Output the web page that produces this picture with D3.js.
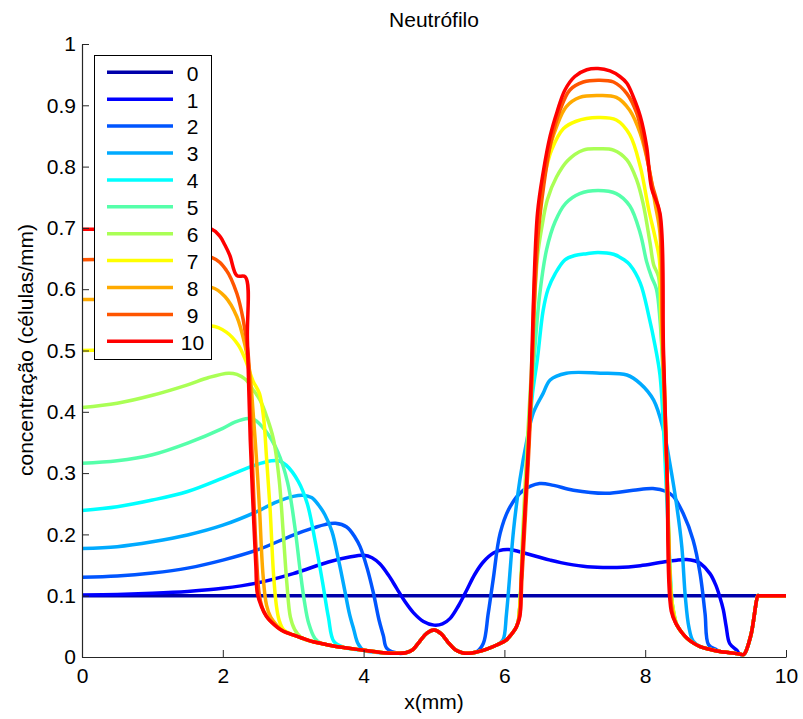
<!DOCTYPE html>
<html>
<head>
<meta charset="utf-8">
<script src="https://cdn.jsdelivr.net/npm/d3@7"></script>
<style>
  html, body { margin: 0; padding: 0; background: #fff; }
  svg { display: block; }
  text { font-family: "Liberation Sans", Arial, Helvetica, sans-serif; fill: #000; }
</style>
</head>
<body>
<svg id="chart" width="803" height="719"></svg>
<script>
// ---------------- DATA ----------------
const titleText = "Neutrófilo";
const xLabel = "x(mm)";
const yLabel = "concentração (células/mm)";
const xTicks = [0, 2, 4, 6, 8, 10];
const xTickLabels = ["0", "2", "4", "6", "8", "10"];
const yTicks = [0, 0.1, 0.2, 0.3, 0.4, 0.5, 0.6, 0.7, 0.8, 0.9, 1];
const yTickLabels = ["0", "0.1", "0.2", "0.3", "0.4", "0.5", "0.6", "0.7", "0.8", "0.9", "1"];
const seriesNames = ["0", "1", "2", "3", "4", "5", "6", "7", "8", "9", "10"];
const seriesColors = ["#0000AA", "#0000FF", "#0055FF", "#00AAFF", "#00FFFF", "#55FFAA",
                      "#AAFF55", "#FFFF00", "#FFAA00", "#FF5500", "#FF0000"];

// common low "floor" shared by the later time curves
const floorPts = [
  [2.49,0.104],[2.55,0.082],[2.62,0.066],[2.69,0.057],[2.78,0.048],[2.86,0.042],[3.0,0.036],
  [3.12,0.031],[3.25,0.026],[3.4,0.022],[3.57,0.018],[3.74,0.015],[4.0,0.011],[4.28,0.007],
  [4.5,0.006],[4.6,0.007],[4.7,0.012],[4.8,0.026],[4.9,0.039],[5.0,0.044],[5.1,0.038],
  [5.2,0.024],[5.3,0.012],[5.4,0.007],[5.5,0.006],[5.6,0.008],[5.75,0.013],[5.9,0.02],
  [6.03,0.028],[6.12,0.04],[6.17,0.049],[6.22,0.066],
  [8.45,0.052],[8.52,0.04],[8.59,0.031],[8.68,0.023],[8.78,0.017],[8.9,0.013],[9.06,0.009],
  [9.2,0.007],[9.34,0.005],[9.4,0.004],[9.5,0.035],[9.6,0.1],[9.61,0.1],[9.7,0.1],[10,0.1]
];

const t0 = [[0,0.1],[10,0.1]];

const t1 = [[0,0.101],[0.5,0.102],[1,0.104],[1.5,0.107],[2,0.112],[2.5,0.121],[3,0.136],[3.5,0.155],
  [3.8,0.163],[4.0,0.166],[4.12,0.162],[4.23,0.152],[4.35,0.134],[4.47,0.112],[4.59,0.09],[4.71,0.072],
  [4.85,0.058],[5.0,0.052],[5.12,0.054],[5.23,0.063],[5.35,0.084],[5.46,0.108],[5.58,0.135],
  [5.70,0.155],[5.85,0.170],[5.98,0.175],[6.1,0.175],[6.27,0.170],[6.46,0.164],[6.65,0.158],
  [6.8,0.154],[7.12,0.148],[7.4,0.146],[7.6,0.146],[7.93,0.149],[8.21,0.154],[8.45,0.158],
  [8.59,0.159],[8.7,0.157],[8.78,0.153],[8.92,0.136],[9.0,0.118],[9.06,0.098],[9.11,0.077],
  [9.15,0.05],[9.20,0.022],[9.30,0.011]];

const t2 = [[0,0.130],[0.5,0.132],[1,0.137],[1.5,0.145],[2,0.158],[2.5,0.175],[3,0.199],[3.3,0.211],
  [3.45,0.216],[3.6,0.218],[3.76,0.212],[3.88,0.195],[3.95,0.18],[4.05,0.145],[4.14,0.104],
  [4.22,0.06],[4.28,0.035],[4.33,0.014],
  "floor",
  [5.70,0.022],[5.77,0.071],[5.84,0.126],[5.94,0.202],[6.08,0.245],[6.27,0.272],[6.5,0.283],
  [6.7,0.280],[6.98,0.272],[7.45,0.267],[7.83,0.272],[8.11,0.275],[8.30,0.27],[8.40,0.262],
  [8.54,0.234],[8.68,0.191],[8.78,0.136],[8.85,0.071],[8.90,0.02],[9.01,0.012]];

const t3 = [[0,0.177],[0.5,0.180],[1,0.188],[1.5,0.199],[2,0.215],[2.5,0.238],[2.74,0.252],[3.0,0.262],
  [3.14,0.264],[3.26,0.260],[3.36,0.248],[3.45,0.232],[3.55,0.205],[3.65,0.155],[3.73,0.11],
  [3.8,0.07],[3.86,0.045],[3.92,0.022],
  "floor",
  [5.98,0.028],[6.03,0.071],[6.13,0.207],[6.22,0.289],[6.32,0.354],[6.41,0.398],[6.55,0.43],
  [6.65,0.452],[6.88,0.463],[7.36,0.463],[7.74,0.460],[7.93,0.446],[8.12,0.419],[8.26,0.37],
  [8.35,0.316],[8.45,0.245],[8.52,0.18],[8.57,0.098],[8.62,0.049],[8.68,0.026]];

const t4 = [[0,0.239],[0.5,0.245],[1,0.256],[1.5,0.270],[2,0.292],[2.17,0.30],[2.46,0.313],[2.69,0.32],
  [2.8,0.32],[2.9,0.313],[3.07,0.287],[3.2,0.25],[3.31,0.19],[3.42,0.12],[3.5,0.065],[3.58,0.025],
  "floor",
  [6.2,0.06],[6.27,0.2],[6.33,0.33],[6.4,0.43],[6.47,0.487],[6.55,0.565],[6.62,0.6],[6.72,0.625],
  [6.86,0.648],[7.0,0.655],[7.17,0.658],[7.33,0.66],[7.55,0.657],[7.7,0.648],[7.78,0.64],
  [7.93,0.61],[8.05,0.557],[8.14,0.508],[8.21,0.46],[8.27,0.35],[8.33,0.2],[8.40,0.072]];

const t5 = [[0,0.316],[0.5,0.32],[1,0.33],[1.5,0.349],[2,0.373],[2.17,0.383],[2.36,0.389],[2.45,0.387],
  [2.6,0.37],[2.78,0.335],[2.92,0.285],[3.02,0.215],[3.1,0.14],[3.16,0.09],[3.22,0.055],[3.31,0.03],
  "floor",
  [6.2,0.06],[6.27,0.2],[6.33,0.33],[6.39,0.44],[6.43,0.5],[6.5,0.59],[6.6,0.665],[6.72,0.71],
  [6.87,0.74],[7.07,0.756],[7.33,0.761],[7.59,0.756],[7.78,0.736],[7.93,0.691],[8.02,0.645],
  [8.09,0.62],[8.16,0.6],[8.21,0.55],[8.26,0.45],[8.31,0.3],[8.37,0.1],[8.42,0.065]];

const t6 = [[0,0.407],[0.5,0.414],[1,0.427],[1.5,0.444],[1.8,0.456],[2.08,0.463],[2.2,0.461],
  [2.32,0.453],[2.43,0.436],[2.53,0.419],[2.63,0.39],[2.72,0.355],[2.8,0.29],[2.86,0.2],
  [2.91,0.12],[2.96,0.065],[3.02,0.045],
  "floor",
  [6.2,0.06],[6.26,0.2],[6.32,0.34],[6.38,0.46],[6.42,0.56],[6.47,0.653],[6.53,0.7],[6.61,0.746],
  [6.74,0.783],[6.9,0.81],[7.12,0.827],[7.33,0.829],[7.55,0.827],[7.74,0.811],[7.88,0.778],
  [7.97,0.74],[8.07,0.675],[8.12,0.64],[8.19,0.62],[8.22,0.55],[8.26,0.45],[8.31,0.3],[8.37,0.1],
  [8.42,0.063]];

const t7 = [[0,0.500],[0.5,0.503],[1.0,0.512],[1.5,0.527],[1.84,0.54],[2.05,0.53],[2.22,0.509],
  [2.32,0.485],[2.43,0.45],[2.52,0.43],[2.58,0.39],[2.62,0.327],[2.67,0.245],[2.72,0.136],
  [2.76,0.085],[2.8,0.06],[2.86,0.045],
  "floor",
  [6.2,0.06],[6.25,0.15],[6.3,0.26],[6.35,0.36],[6.39,0.46],[6.43,0.6],[6.5,0.746],[6.58,0.79],
  [6.67,0.827],[6.84,0.862],[7.02,0.874],[7.33,0.880],[7.59,0.876],[7.78,0.852],[7.93,0.80],
  [8.05,0.73],[8.14,0.685],[8.2,0.65],[8.23,0.55],[8.27,0.45],[8.31,0.3],[8.37,0.1],[8.42,0.063]];

const t8 = [[0,0.583],[0.5,0.585],[1,0.59],[1.5,0.597],[1.84,0.603],[2.03,0.588],[2.2,0.555],
  [2.32,0.506],[2.38,0.468],[2.43,0.4],[2.48,0.32],[2.52,0.245],[2.57,0.136],[2.62,0.085],
  [2.68,0.065],[2.78,0.05],
  "floor",
  [6.2,0.06],[6.25,0.15],[6.3,0.26],[6.35,0.36],[6.39,0.46],[6.43,0.62],[6.5,0.74],[6.6,0.811],
  [6.74,0.865],[6.88,0.898],[7.07,0.913],[7.33,0.916],[7.59,0.913],[7.78,0.892],[7.93,0.854],
  [8.05,0.80],[8.14,0.740],[8.21,0.691],[8.24,0.55],[8.27,0.45],[8.31,0.3],[8.37,0.09],[8.42,0.06]];

const t9 = [[0,0.648],[1,0.65],[1.84,0.652],[2.05,0.631],[2.2,0.593],[2.29,0.55],[2.36,0.495],
  [2.40,0.38],[2.44,0.26],[2.48,0.16],[2.52,0.1],[2.58,0.075],[2.65,0.062],
  "floor",
  [6.22,0.07],[6.25,0.13],[6.30,0.234],[6.35,0.343],[6.39,0.452],[6.42,0.56],[6.48,0.69],[6.56,0.77],
  [6.66,0.84],[6.79,0.892],[6.93,0.925],[7.12,0.938],[7.33,0.941],[7.55,0.938],[7.74,0.919],
  [7.88,0.887],[8.0,0.83],[8.1,0.77],[8.16,0.746],[8.21,0.718],[8.25,0.5],[8.31,0.3],[8.38,0.075],
  [8.43,0.056]];

const t10 = [[0,0.698],[1.0,0.698],[1.84,0.698],[1.96,0.686],[2.03,0.672],[2.1,0.655],[2.2,0.622],
  [2.32,0.62],[2.35,0.517],[2.39,0.354],[2.43,0.245],[2.47,0.147],
  "floor",
  [6.24,0.126],[6.29,0.234],[6.34,0.343],[6.38,0.452],[6.41,0.571],[6.47,0.724],[6.55,0.79],
  [6.65,0.85],[6.75,0.89],[6.86,0.925],[7.0,0.947],[7.17,0.958],[7.33,0.960],[7.5,0.956],
  [7.64,0.947],[7.74,0.936],[7.83,0.914],[7.93,0.882],[8.02,0.833],[8.09,0.765],[8.21,0.724],
  [8.26,0.5],[8.31,0.3],[8.37,0.075]];

const seriesRaw = [t0, t1, t2, t3, t4, t5, t6, t7, t8, t9, t10];

// ---------------- BUILD ----------------
// Replace each "floor" marker with the shared floor points between its neighbours,
// and append the floor after the last explicit point.
function build(raw) {
  if (raw.length === 2) return raw;
  const out = [];
  for (let i = 0; i < raw.length; i++) {
    const p = raw[i];
    if (p === "floor") {
      const a = raw[i - 1][0], b = raw[i + 1][0];
      floorPts.filter(q => q[0] > a && q[0] < b).forEach(q => out.push(q));
    } else out.push(p);
  }
  const last = out[out.length - 1][0];
  floorPts.filter(q => q[0] > last).forEach(q => out.push(q));
  return out;
}
const series = seriesRaw.map(build);

const svg = d3.select("#chart");
const x = d3.scaleLinear().domain([0, 10]).range([82, 786]);
const y = d3.scaleLinear().domain([0, 1]).range([657, 44]);

const line = d3.line().x(d => x(d[0])).y(d => y(d[1])).curve(d3.curveCatmullRom.alpha(0.5));

const lw = 3.5;
// curves
svg.append("g").selectAll("path")
  .data(series)
  .join("path")
  .attr("fill", "none")
  .attr("stroke", (d, i) => seriesColors[i])
  .attr("stroke-width", lw)
  .attr("stroke-linejoin", "round")
  .attr("d", line);

// axes
const fontSize = 21;
const xAxis = d3.axisBottom(x).tickValues(xTicks)
  .tickFormat((d, i) => xTickLabels[i]).tickSize(-7).tickSizeOuter(0).tickPadding(11);
const yAxis = d3.axisLeft(y).tickValues(yTicks)
  .tickFormat((d, i) => yTickLabels[i]).tickSize(-7).tickSizeOuter(0).tickPadding(6);

const gx = svg.append("g").attr("transform", "translate(0,657)").call(xAxis);
const gy = svg.append("g").attr("transform", "translate(82,0)").call(yAxis);
[gx, gy].forEach(g => {
  g.selectAll("path.domain").attr("stroke", "#262626").attr("stroke-width", 1.2);
  g.selectAll(".tick line").attr("stroke", "#262626").attr("stroke-width", 1);
  g.selectAll(".tick text").attr("font-size", fontSize)
    .attr("font-family", "Liberation Sans, Arial, sans-serif").attr("fill", "#000");
});

// title and labels
svg.append("text").attr("x", 434).attr("y", 27).attr("text-anchor", "middle")
  .attr("font-size", fontSize).text(titleText);
svg.append("text").attr("x", 434).attr("y", 709).attr("text-anchor", "middle")
  .attr("font-size", fontSize).text(xLabel);
svg.append("text").attr("transform", "translate(33,350) rotate(-90)")
  .attr("text-anchor", "middle").attr("font-size", fontSize).text(yLabel);

// legend
const lg = svg.append("g");
lg.append("rect").attr("x", 94.5).attr("y", 55.5).attr("width", 117).attr("height", 304)
  .attr("fill", "#fff").attr("stroke", "#000").attr("stroke-width", 1);
const rowY = i => 72.3 + i * 26.9;
seriesNames.forEach((name, i) => {
  lg.append("line").attr("x1", 107).attr("x2", 173).attr("y1", rowY(i)).attr("y2", rowY(i))
    .attr("stroke", seriesColors[i]).attr("stroke-width", lw);
  lg.append("text").attr("x", 192.5).attr("y", rowY(i) + 1).attr("dy", "0.35em")
    .attr("text-anchor", "middle").attr("font-size", fontSize).text(name);
});
</script>
</body>
</html>
